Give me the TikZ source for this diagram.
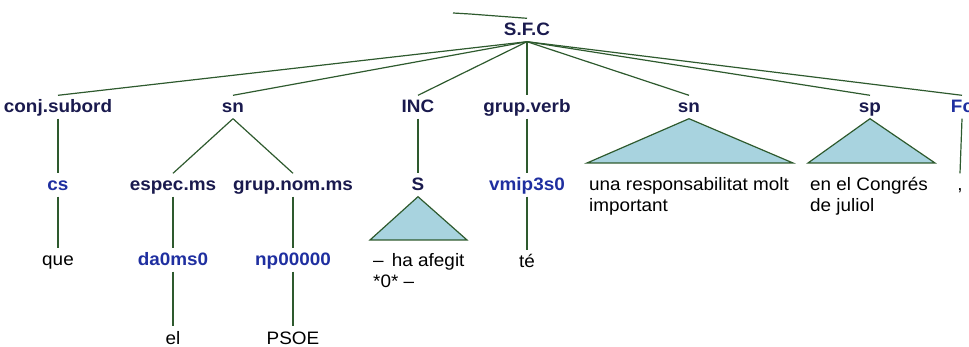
\documentclass[tikz,border=0pt]{standalone}
\usepackage{fontspec}
\setmainfont{Liberation Sans}[FakeStretch=1.05]
\definecolor{navy}{HTML}{1A1A4E}
\definecolor{posblue}{HTML}{1F2FA0}
\definecolor{edgegreen}{HTML}{2E5A2E}
\definecolor{trifill}{HTML}{A8D3DF}
\tikzset{
  catlabel/.style={font=\fontsize{18}{20}\selectfont\bfseries, text=navy, inner xsep=0pt, inner ysep=5.5pt, text height=12pt, text depth=0pt},
  postag/.style={catlabel, text=posblue},
  wordlabel/.style={font=\fontsize{18}{20}\selectfont, text=black, inner xsep=0pt, inner ysep=5.5pt, text height=12pt, text depth=0pt},
  wordblock/.style={font=\fontsize{18}{20.5}\selectfont, text=black, align=left, anchor=north west, inner sep=0pt},
  branch/.style={draw=edgegreen, line width=1.2pt},
  trishape/.style={draw=edgegreen, fill=trifill, line width=1.2pt, line join=miter},
}
\begin{document}
\begin{tikzpicture}[x=1pt,y=-1pt]
\useasboundingbox (0,0) rectangle (969,347);
% root
\node[catlabel] (sfc) at (527,30) {S.F.C};
\coordinate (up0) at (453,13);
\coordinate (up1) at (470,14);
\draw[branch] (up0) -- (up1) -- (sfc.north);
% level 1
\node[catlabel] (conj) at (58,107) {conj.subord};
\node[catlabel] (sn1) at (233,107) {sn};
\node[catlabel] (inc) at (418,107) {INC};
\node[catlabel] (gv) at (527,107) {grup.verb};
\node[catlabel] (sn2) at (689,107) {sn};
\node[catlabel] (sp) at (870,107) {sp};
\node[postag] (fc) at (962,107) {Fc};
\foreach \c in {conj,sn1,inc,gv,sn2,sp,fc}
  \draw[branch] (sfc.south) -- (\c.north);
% level 2
\node[postag] (cs) at (58,185) {cs};
\node[catlabel] (espec) at (173,185) {espec.ms};
\node[catlabel] (gnom) at (293,185) {grup.nom.ms};
\node[catlabel] (s) at (418,185) {S};
\node[postag] (vmip) at (527,185) {vmip3s0};
\draw[branch] (conj.south) -- (cs.north);
\draw[branch] (sn1.south) -- (espec.north);
\draw[branch] (sn1.south) -- (gnom.north);
\draw[branch] (inc.south) -- (s.north);
\draw[branch] (gv.south) -- (vmip.north);
% triangles
\coordinate (sL) at (370,240); \coordinate (sR) at (467,240);
\draw[trishape] (s.south) -- (sR) -- (sL) -- cycle;
\coordinate (snL) at (587,163); \coordinate (snR) at (793,163);
\draw[trishape] (sn2.south) -- (snR) -- (snL) -- cycle;
\coordinate (spL) at (808,163); \coordinate (spR) at (935,163);
\draw[trishape] (sp.south) -- (spR) -- (spL) -- cycle;
% level 3
\node[wordlabel] (que) at (58,260) {que};
\node[postag] (da) at (173,260) {da0ms0};
\node[postag] (np) at (293,260) {np00000};
\node[wordlabel] (te) at (527,262) {té};
\node[wordblock] (afegit) at (373,253.5) {\rule{0pt}{12.5pt}–\, ha afegit\\*0* –};
\node[wordblock] (resp) at (589,177.5) {\rule{0pt}{12.5pt}una responsabilitat molt\\important};
\node[wordblock] (congres) at (810,177.5) {\rule{0pt}{12.5pt}en el Congrés\\de juliol};
\node[wordlabel] (comma) at (960,185) {,};
\draw[branch] (cs.south) -- (que.north);
\draw[branch] (espec.south) -- (da.north);
\draw[branch] (gnom.south) -- (np.north);
\draw[branch] (vmip.south) -- (te.north);
\draw[branch] (fc.south) -- (comma.north);
% level 4
\node[wordlabel] (el) at (173,338) {el};
\node[wordlabel] (psoe) at (293,338) {PSOE};
\draw[branch] (da.south) -- (el.north);
\draw[branch] (np.south) -- (psoe.north);
\end{tikzpicture}
\end{document}
